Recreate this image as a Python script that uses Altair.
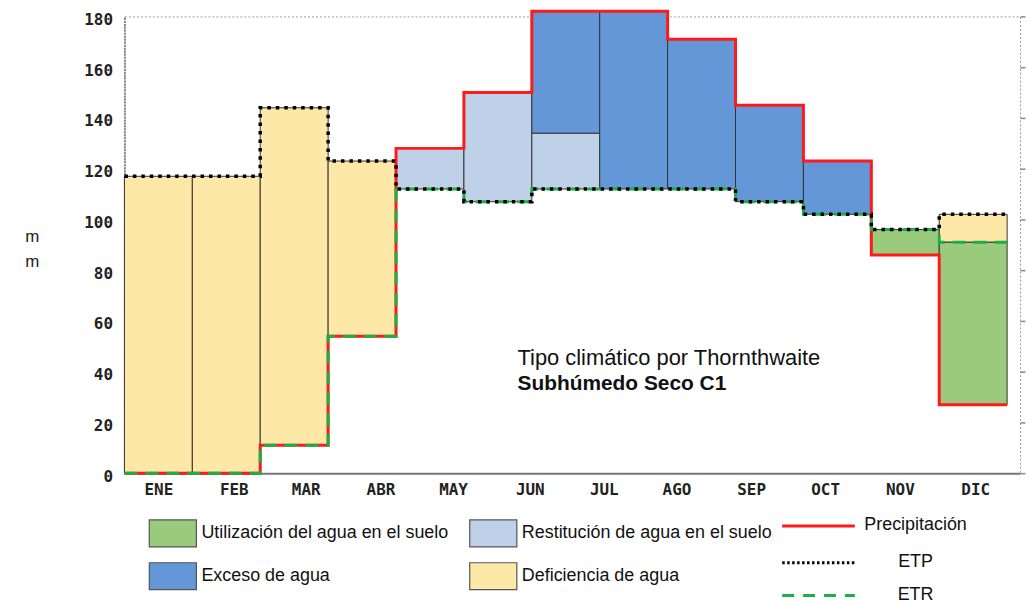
import altair as alt
import pandas as pd

# ---------------- data ----------------
months = ["ENE", "FEB", "MAR", "ABR", "MAY", "JUN", "JUL", "AGO", "SEP", "OCT", "NOV", "DIC"]
# where the month labels sit on the column axis (as drawn in the original)
label_pos = [0.5, 1.61, 2.67, 3.77, 4.84, 5.97, 7.06, 8.13, 9.23, 10.32, 11.42, 12.53]
columns = list(range(13))
precipitacion = [0, 0, 11, 54, 128, 150, 182, 182, 171, 145, 123, 86, 27]
etp = [117, 117, 144, 123, 112, 107, 112, 112, 112, 107, 102, 96, 102]
etr = [0, 0, 11, 54, 112, 107, 112, 112, 112, 107, 102, 96, 91]
recarga = [0, 0, 0, 0, 16, 43, 22, 0, 0, 0, 0, 0, 0]

T_UTIL = "Utilización del agua en el suelo"
T_REST = "Restitución de agua  en el suelo"
T_EXC = "Exceso de agua"
T_DEF = "Deficiencia de agua"
fill_types = [T_UTIL, T_EXC, T_REST, T_DEF]
fill_colors = ["#9acb7c", "#6397d8", "#bfd1e8", "#fde8a8"]
line_names = ["Precipitación", "ETP", "ETR"]

# ---------------- tables ----------------
seg = []
for i, p, e, r, rc in zip(columns, precipitacion, etp, etr, recarga):
    if e > r:
        seg.append(dict(x0=i, x1=i + 1, lo=r, hi=e, tipo=T_DEF))
    if r > p:
        seg.append(dict(x0=i, x1=i + 1, lo=p, hi=r, tipo=T_UTIL))
    if rc > 0:
        seg.append(dict(x0=i, x1=i + 1, lo=e, hi=e + rc, tipo=T_REST))
    if p > e + rc:
        seg.append(dict(x0=i, x1=i + 1, lo=e + rc, hi=p, tipo=T_EXC))
seg_df = pd.DataFrame(seg)

lines = []
for name, vals in [("P", precipitacion), ("ETP", etp), ("ETR", etr)]:
    for i, v in zip(columns, vals):
        lines.append(dict(serie=name, x=i, v=v, ord=2 * i))
        lines.append(dict(serie=name, x=i + 1, v=v, ord=2 * i + 1))
lines_df = pd.DataFrame(lines)

# ---------------- scales / axes ----------------
xscale = alt.Scale(domain=[0, 13.19], nice=False, zero=False)
yscale = alt.Scale(domain=[0, 180], nice=False)
color_scale = alt.Scale(domain=fill_types, range=fill_colors)

tick_font = "DejaVu Sans Mono"
label_expr = "%s[indexof(%s, datum.value)]" % (
    "[" + ",".join("'%s'" % m for m in months) + "]",
    "[" + ",".join(str(v) for v in label_pos) + "]",
)

x_axis = alt.Axis(
    values=label_pos, labelExpr=label_expr, title=None, labelAngle=0,
    labelFont=tick_font, labelFontWeight="bold", labelFontSize=16, labelColor="#222",
    labelPadding=8, ticks=False, domainColor="#777", domainWidth=2, grid=False,
)
y_axis_left = alt.Axis(
    values=list(range(0, 181, 20)), title=["m", "m"], titleAngle=0, titleX=-93, titleY=213,
    titleBaseline="top", titleAlign="center", titleFont="Liberation Sans", titleFontSize=17,
    titleFontWeight="normal", titleLineHeight=25, titleColor="#222",
    labelFont=tick_font, labelFontWeight="bold", labelFontSize=16, labelColor="#222",
    labelPadding=12, labelOffset=3, ticks=False, domainColor="#888", domainWidth=2,
    domainDash=[2, 1], grid=False,
)
y_axis_right = alt.Axis(
    orient="right", values=list(range(0, 181, 20)), labels=False, domain=False,
    tickSize=5, tickColor="#888", tickWidth=1.5, title=None, grid=False,
)

# ---------------- main plot ----------------
fills = alt.Chart(seg_df).mark_rect(stroke="#333", strokeWidth=1).encode(
    x=alt.X("x0:Q", scale=xscale, axis=x_axis),
    x2="x1:Q",
    y=alt.Y("lo:Q", scale=yscale, axis=y_axis_left),
    y2="hi:Q",
    color=alt.Color("tipo:N", scale=color_scale, legend=None),
)

def step_line(serie, color, width, dash, axis=None):
    return alt.Chart(lines_df).transform_filter(alt.datum.serie == serie).mark_line(
        color=color, strokeWidth=width, strokeDash=dash, strokeCap="butt"
    ).encode(
        x=alt.X("x:Q", scale=xscale),
        y=alt.Y("v:Q", scale=yscale, axis=axis),
        order="ord:Q",
    )

red = step_line("P", "#ff1a1a", 3, [1, 0])
green = step_line("ETR", "#1cae48", 3, [13, 8])
black = step_line("ETP", "#000000", 3.5, [3.5, 5], axis=y_axis_right)

ann1 = alt.Chart(pd.DataFrame({"t": ["Tipo climático por Thornthwaite"]})).mark_text(
    align="left", baseline="middle", font="Liberation Sans", fontSize=22, color="#111"
).encode(text="t:N", x=alt.value(395), y=alt.value(343))
ann2 = alt.Chart(pd.DataFrame({"t": ["Subhúmedo Seco C1"]})).mark_text(
    align="left", baseline="middle", font="Liberation Sans", fontSize=21,
    fontWeight="bold", color="#111"
).encode(text="t:N", x=alt.value(395), y=alt.value(369))

main = alt.layer(fills, red, green, black, ann1, ann2).resolve_axis(y="independent")

# ---------------- legend (fills) ----------------
leg_font = "Liberation Sans"
fl_df = pd.DataFrame({
    "tipo": fill_types,
    "col": [0, 0, 1, 1],
    "row": [0, 1, 0, 1],
})
fl_x = alt.Scale(domain=[0, 1], range=[25, 347], nice=False, zero=False)
fl_y = alt.Scale(domain=[0, 1], range=[506, 549], nice=False, zero=False)
fl_base = alt.Chart(fl_df).transform_calculate(
    cx2="datum.col + 0.147", cy2="datum.row + 0.63", cym="datum.row + 0.315"
)
fl_rect = fl_base.mark_rect(stroke="#555", strokeWidth=1.2).encode(
    x=alt.X("col:Q", scale=fl_x, axis=None),
    x2="cx2:Q",
    y=alt.Y("row:Q", scale=fl_y, axis=None),
    y2="cy2:Q",
    color=alt.Color("tipo:N", scale=color_scale, legend=None),
)
fl_text = fl_base.mark_text(
    align="left", baseline="middle", dx=5, font=leg_font, fontSize=18, color="#111"
).encode(
    x=alt.X("cx2:Q", scale=fl_x, axis=None),
    y=alt.Y("cym:Q", scale=fl_y, axis=None),
    text="tipo:N",
)
fill_legend = alt.layer(fl_rect, fl_text)

# ---------------- legend (lines) ----------------
ll_df = pd.DataFrame({"serie": line_names, "row": [0, 1, 2]})
ll_x = alt.Scale(domain=[0, 1], range=[661, 734], nice=False, zero=False)
ll_y = alt.Scale(domain=[0, 1, 2], range=[512, 549, 582], nice=False, zero=False)
ll_rule = alt.Chart(ll_df).mark_rule(strokeWidth=3, strokeCap="butt").encode(
    x=alt.XDatum(0, scale=ll_x, axis=None),
    x2=alt.X2Datum(1),
    y=alt.Y("row:Q", scale=ll_y, axis=None),
    stroke=alt.Stroke("serie:N", scale=alt.Scale(domain=line_names,
                                                  range=["#ff1a1a", "#000000", "#1cae48"]),
                      legend=None),
    strokeDash=alt.StrokeDash("serie:N", scale=alt.Scale(domain=line_names,
                                                          range=[[1, 0], [2.5, 2.5], [12, 9]]),
                              legend=None),
)
ll_text = alt.Chart(ll_df).mark_text(
    align="center", baseline="middle", dx=61, dy=-1, font=leg_font, fontSize=18, color="#111"
).encode(
    x=alt.XDatum(1, scale=ll_x, axis=None),
    y=alt.Y("row:Q", scale=ll_y, axis=None),
    text="serie:N",
)
line_legend = alt.layer(ll_rule, ll_text)

chart = alt.layer(main, fill_legend, line_legend).resolve_scale(
    x="independent", y="independent"
).properties(
    width=900, height=459,
    padding={"left": 16, "top": -5, "right": 0, "bottom": 0},
).configure_view(stroke="#9a9a9a", strokeDash=[2, 2], strokeWidth=1)

chart.save("out.html", embed_options={"renderer": "svg", "actions": False})
